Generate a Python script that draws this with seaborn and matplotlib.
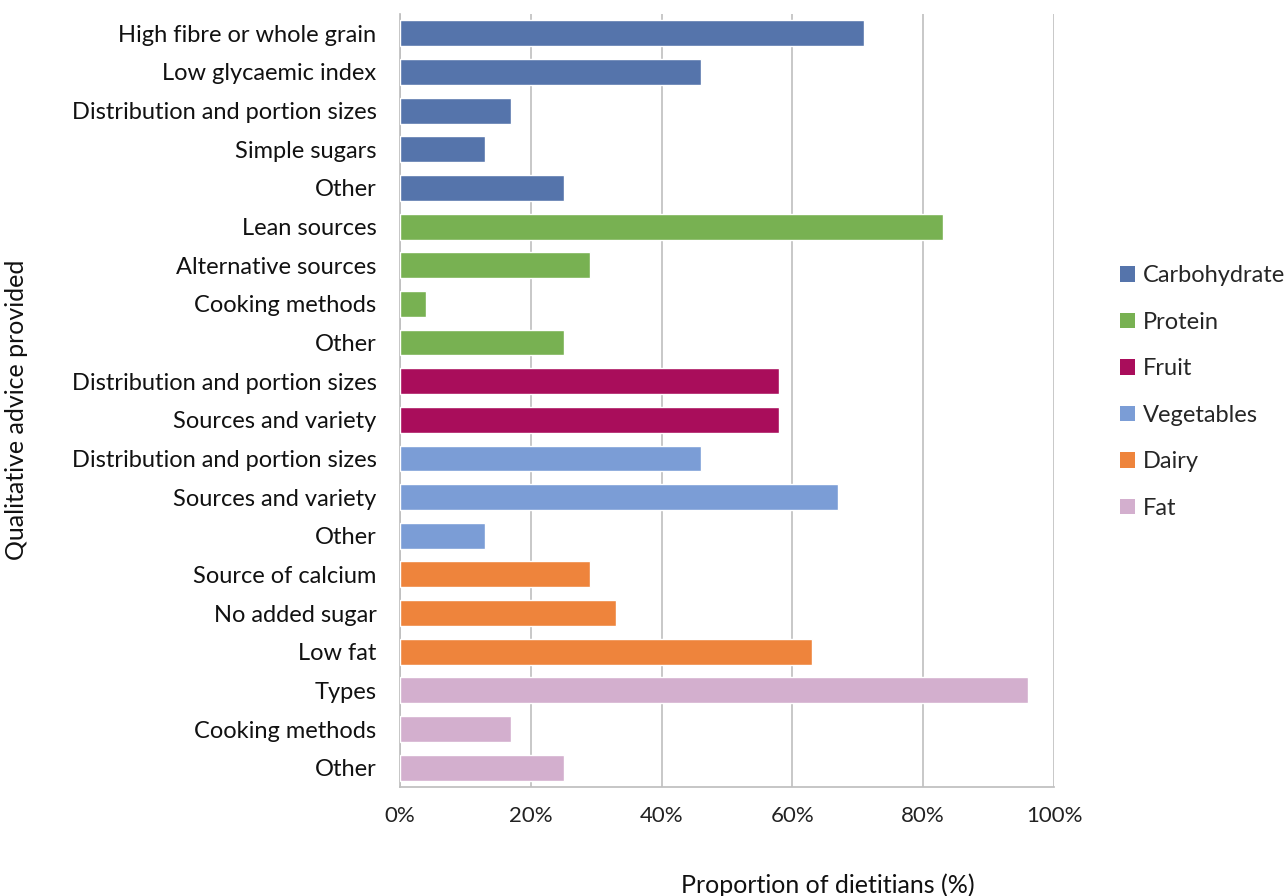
import matplotlib
matplotlib.use("Agg")
import matplotlib.pyplot as plt
import seaborn as sns
import pandas as pd
from matplotlib.patches import Patch

labels = ["High fibre or whole grain", "Low glycaemic index", "Distribution and portion sizes",
          "Simple sugars", "Other",
          "Lean sources", "Alternative sources", "Cooking methods", "Other",
          "Distribution and portion sizes", "Sources and variety",
          "Distribution and portion sizes", "Sources and variety", "Other",
          "Source of calcium", "No added sugar", "Low fat",
          "Types", "Cooking methods", "Other"]
groups = (["Carbohydrate"] * 5 + ["Protein"] * 4 + ["Fruit"] * 2 +
          ["Vegetables"] * 3 + ["Dairy"] * 3 + ["Fat"] * 3)
values = [71, 46, 17, 13, 25,
          83, 29, 4, 25,
          58, 58,
          46, 67, 13,
          29, 33, 63,
          96, 17, 25]
group_order = ["Carbohydrate", "Protein", "Fruit", "Vegetables", "Dairy", "Fat"]
colors = ["#5574AB", "#78B152", "#A90D5B", "#7B9DD6", "#EE843C", "#D3AFCE"]

df = pd.DataFrame({"pos": list(range(len(labels))), "label": labels,
                   "group": groups, "value": values})

sns.set_theme(style="white")
plt.rcParams['font.family'] = ['Lato', 'DejaVu Sans']

fig = plt.figure(figsize=(12.85, 8.96), dpi=100)
ax = fig.add_axes([400/1285, 1 - 787/896, (1054-400)/1285, (787-14)/896])

palette = dict(zip(group_order, colors))
sns.barplot(data=df, x="value", y="pos", hue="group", hue_order=group_order,
            palette=palette, orient="h", dodge=False, width=0.67,
            saturation=1, ax=ax, legend=False, zorder=3)

ax.set_xlim(0, 100)
ax.set_ylim(len(labels) - 0.5, -0.5)
ax.set_xticks([0, 20, 40, 60, 80, 100])
ax.set_xticklabels([f"{t}%" for t in [0, 20, 40, 60, 80, 100]], fontsize=16, color="#222222")
ax.set_yticks(range(len(labels)))
ax.set_yticklabels(labels, fontsize=17, color="#111111")
ax.tick_params(axis="x", length=0, pad=14)
ax.tick_params(axis="y", length=0, pad=17)
ax.xaxis.grid(True, color="#BFBFBF", linewidth=1.2, zorder=0)
ax.set_axisbelow(True)
for s in ["top", "right"]:
    ax.spines[s].set_visible(False)
ax.spines["left"].set_color("#BFBFBF")
ax.spines["bottom"].set_color("#BFBFBF")
ax.set_xlabel("")
ax.set_ylabel("")

fig.text(828/1285, 1 - 885/896, "Proportion of dietitians (%)", ha="center", va="center",
         fontsize=18, color="#111111")
fig.text(17/1285, 1 - 410/896, "Qualitative advice provided", ha="center", va="center",
         rotation=90, fontsize=18, color="#111111")

handles = [Patch(facecolor=c, edgecolor="none") for c in colors]
fig.legend(handles, group_order, loc="center left", bbox_to_anchor=(1120/1285, 1 - 392/896),
           frameon=False, fontsize=17, handlelength=0.65, handleheight=0.65,
           labelspacing=1.08, handletextpad=0.33, borderaxespad=0, borderpad=0)

fig.savefig("out.png", dpi=100)
